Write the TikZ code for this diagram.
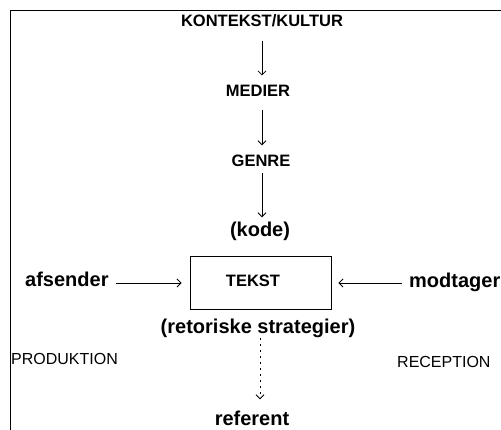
\documentclass[tikz,border=0pt]{standalone}
\usepackage{fontspec}
\setmainfont{Liberation Sans}
\usetikzlibrary{arrows.meta}
\begin{document}
\begin{tikzpicture}[x=1pt, y=-1pt,
  caps/.style={font=\fontsize{16.5}{18}\selectfont\bfseries, inner sep=0pt, anchor=base},
  lower/.style={font=\fontsize{20}{22}\selectfont\bfseries, inner sep=0pt, anchor=base},
  side/.style={font=\fontsize{16}{18}\selectfont, inner sep=0pt, anchor=base west},
  arr/.style={line width=0.8pt, -{Straight Barb[length=4pt,width=8pt,line width=0.8pt]}},
  dots/.style={arr, dash pattern=on 1.6pt off 4.4pt}
]
\useasboundingbox (0,0) rectangle (501,430);
% frame: top and left edges only
\draw[line width=0.9pt] (10,430) -- (10,10) -- (501,10);

% central chain
\node[caps] (kontekst) at (262,27) {KONTEKST/KULTUR};
\node[caps] (medier) at (258,97) {MEDIER};
\node[caps] (genre) at (261,167) {GENRE};
\node[lower] (kode) at (260,237) {(kode)};

% text box with its label
\node[draw, line width=0.9pt, minimum width=141pt, minimum height=53pt, inner sep=0pt] (box) at (260.5,282.5) {};
\node[caps] (tekst) at (253,287) {TEKST};

\node[lower, anchor=base west] (afsender) at (25,287) {afsender};
\node[lower, anchor=base west] (modtager) at (409,288) {modtager};
\node[lower] (strategier) at (258,334) {(retoriske strategier)};
\node[lower] (referent) at (252,425) {referent};

\node[side] (produktion) at (11,365) {PRODUKTION};
\node[side] (reception) at (397,368) {RECEPTION};

% connectors
\draw[arr, shorten <=13pt, shorten >=10pt] (kontekst.south -| 262,0) -- (medier.north -| 262,0);
\draw[arr, shorten <=13pt, shorten >=10pt] (medier.south -| 262,0) -- (genre.north -| 262,0);
\draw[arr, shorten <=6pt, shorten >=5pt] (genre.south -| 262,0) -- (kode.north -| 262,0);
\draw[arr, shorten <=7pt, shorten >=8pt] (afsender.east |- 0,283) -- (box.west |- 0,283);
\draw[arr, shorten <=7pt, shorten >=7pt] (modtager.west |- 0,283) -- (box.east |- 0,283);
\draw[dots, shorten <=0pt, shorten >=11pt] (strategier.south -| 260,0) -- (referent.north -| 260,0);
\end{tikzpicture}
\end{document}
